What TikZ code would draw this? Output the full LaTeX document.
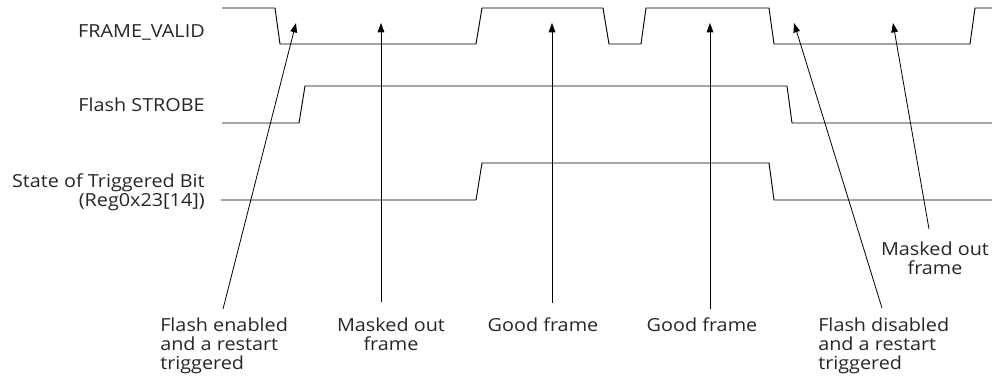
\documentclass[tikz,border=0pt]{standalone}
\usepackage{fontspec}
\setmainfont[FakeStretch=1.1]{Open Sans}
\usetikzlibrary{arrows.meta}
\begin{document}
\begin{tikzpicture}[x=0.75pt,y=-0.75pt,
  sig/.style={line width=0.7pt,line join=miter},
  ptr/.style={line width=0.6pt,-{Triangle[length=7pt,width=5pt]}},
  lbl/.style={inner sep=0pt,font=\fontsize{13.5pt}{14.25pt}\selectfont},
  every node/.style={text=black!85}]
\useasboundingbox (0,0) rectangle (996,383);
% signals
\draw[sig] (222,8) -- (275,8) -- (280,44) -- (476,44) -- (482,8) -- (603,8) -- (609,44)
  -- (641,44) -- (646,8) -- (769,8) -- (774,44) -- (970,44) -- (975,8) -- (992,8);
\draw[sig] (222,123) -- (299,123) -- (305,86) -- (787,86) -- (792,123) -- (992,123);
\draw[sig] (221,200) -- (476,200) -- (482,163) -- (769,163) -- (774,200) -- (992,200);
% signal names
\node[lbl,anchor=base east] (fv) at (205,37) {FRAME\_VALID};
\node[lbl,anchor=base east] (fs) at (205,111) {Flash STROBE};
\node[lbl,anchor=base east] (tb) at (205,187) {State of Triggered Bit};
\node[lbl,anchor=base east] (rg) at (205,206) {(Reg0x23[14])};
% annotations (base anchor = last line)
\node[lbl,anchor=base west,align=left] (l1) at (160,369) {Flash enabled\\and a restart\\triggered};
\node[lbl,anchor=base,align=center] (l2) at (391,350) {Masked out\\frame};
\node[lbl,anchor=base] (l3) at (543,331) {Good frame};
\node[lbl,anchor=base] (l4) at (702,331) {Good frame};
\node[lbl,anchor=base west,align=left] (l5) at (818,369) {Flash disabled\\and a restart\\triggered};
\node[lbl,anchor=base,align=center] (l6) at (935,274) {Masked out\\frame};
% arrow ends
\coordinate (a1) at (223,309); \coordinate (t1) at (296,23);
\coordinate (a2) at (381,302); \coordinate (t2) at (381,23);
\coordinate (a3) at (552,303); \coordinate (t3) at (552,23);
\coordinate (a4) at (710,309); \coordinate (t4) at (710,23);
\coordinate (a5) at (882,308); \coordinate (t5) at (794,23);
\coordinate (a6) at (929,229); \coordinate (t6) at (893,23);
\foreach \i in {1,...,6} \draw[ptr] (a\i) -- (t\i);
\end{tikzpicture}
\end{document}
